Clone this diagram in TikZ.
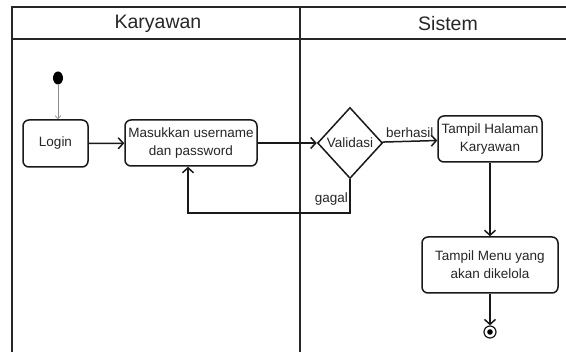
\documentclass[tikz,border=0pt]{standalone}
\usepackage{fontspec}
\setmainfont{Liberation Sans}
\usetikzlibrary{arrows.meta,shapes.geometric}
\begin{document}
\begin{tikzpicture}[x=1pt,y=-1pt,
  act/.style={draw=black!90, line width=1.5pt, rounded corners=6pt, fill=white,
    align=center, font=\fontsize{13.5}{18}\selectfont, text=black!85, inner sep=0pt},
  decision/.style={diamond, draw=black!90, line width=1.5pt, fill=white, inner sep=0pt,
    font=\fontsize{13.5}{16}\selectfont, text=black!85},
  flow/.style={draw=black!90, line width=1.5pt, -{Straight Barb[length=5pt,width=11pt]}},
  lane/.style={draw=black!85, line width=2pt},
  lbl/.style={font=\fontsize{13.5}{16}\selectfont, text=black!85, inner sep=0pt},
  head/.style={font=\fontsize{19.5}{22}\selectfont, text=black!85, inner sep=0pt}]
\useasboundingbox (0,0) rectangle (566,352);

% swimlane frame
\draw[lane] (12,352) -- (12,7) -- (566,7);
\draw[lane] (12,39) -- (566,39);
\draw[lane] (300,7) -- (300,352);
\node[head] (hk) at (158,24) {Karyawan};
\node[head] (hs) at (448,24) {Sistem};

% activities
\node[ellipse, fill=black, minimum width=10pt, minimum height=13pt, inner sep=0pt] (start) at (58,78) {};
\node[act, minimum width=65pt, minimum height=47pt] (login) at (55.5,143.5) {Login};
\node[act, minimum width=132pt, minimum height=46pt] (input) at (191,143) {Masukkan username\\dan password};
\node[decision, minimum width=65pt, minimum height=71pt] (valid) at (350,143) {Validasi};
\node[act, minimum width=104pt, minimum height=46pt] (home) at (490,139) {Tampil Halaman\\Karyawan};
\node[act, minimum width=136pt, minimum height=56pt] (menu) at (490,265) {Tampil Menu yang\\akan dikelola};
\node[circle, draw=black!90, line width=1.2pt, minimum size=12pt, inner sep=0pt] (stop) at (490,332) {};
\fill[black] (stop.center) circle (2.8pt);

% flows
\draw[draw=black!45, line width=0.8pt, -{Straight Barb[length=3pt,width=6pt]}] (start) -- (start |- login.north);
\draw[flow] (login) -- (input);
\draw[flow] (input) -- (valid);
\draw[flow] (valid) -- node[lbl, above=3pt] (lb) {berhasil} (home);
\coordinate (g1) at (350,213);
\coordinate (g2) at (188,213);
\draw[flow] (valid.south) -- (g1) -- (g2) -- (g2 |- input.south);
\node[lbl, anchor=east] (lg) at (348,199) {gagal};
\draw[flow] (home) -- (menu);
\draw[flow] (menu) -- (stop);
\end{tikzpicture}
\end{document}
